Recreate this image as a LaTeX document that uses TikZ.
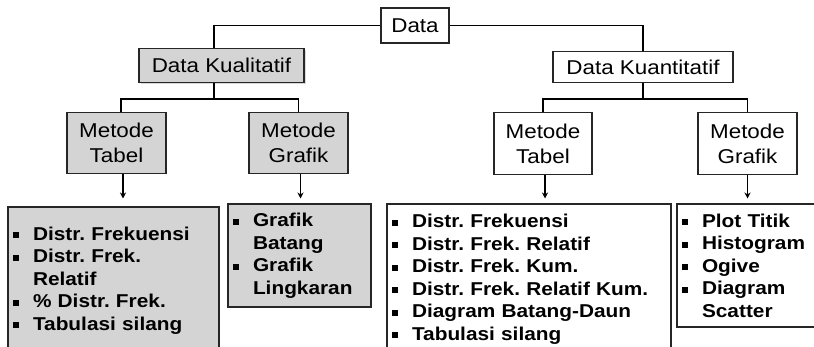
\documentclass[tikz,border=0pt]{standalone}
\usepackage{fontspec}
\setmainfont{Liberation Sans}[FakeStretch=1.12]
\usepackage{tikz}
\usetikzlibrary{positioning,arrows.meta,shadows}
\definecolor{boxgray}{RGB}{212,212,212}
\newcommand{\itembul}{\makebox[20pt][l]{\rule[2pt]{6pt}{6pt}}}
\newcommand{\itemgap}{\hspace*{20pt}}
\frenchspacing

\begin{document}
\begin{tikzpicture}[x=1pt, y=1pt,
    tbox/.style={draw=black!85, line width=1.4pt, rectangle, inner sep=0pt, minimum height=34pt, font=\fontsize{20}{25}\selectfont},
    mbox/.style={tbox, align=center, minimum width=99pt, minimum height=61pt},
    lbox/.style={draw=black!85, line width=1.4pt, rectangle, inner xsep=5pt, inner ysep=0pt, align=left, font=\fontsize{18.6}{22.5}\selectfont\bfseries\frenchspacing},
    link/.style={line width=1.3pt},
    arr/.style={link, -{Stealth[length=6pt, width=6pt]}, shorten >=5pt}]

    \path[use as bounding box, clip] (0,0) rectangle (814,-347);

    % Nodes
    \node (data) [tbox, minimum width=68pt, minimum height=35pt] at (415,-25.5) {Data};
    \node (kual) [tbox, fill=boxgray, minimum width=165pt, drop shadow={shadow xshift=2pt, shadow yshift=-2pt, opacity=0.3}, below=4pt of data, xshift=-193.5pt] {Data Kualitatif};
    \node (kuan) [tbox, minimum width=180pt, minimum height=31pt, below=7pt of data, xshift=228pt] {Data Kuantitatif};

    \node (kualTab) [mbox, fill=boxgray, below=29pt of kual, xshift=-105pt] {Metode\\Tabel};
    \node (kualGraf) [mbox, fill=boxgray, below=29pt of kual, xshift=77pt] {Metode\\Grafik};
    \node (kuanTab) [mbox, minimum width=98pt, minimum height=62pt, below=29pt of kuan, xshift=-100pt] {Metode\\Tabel};
    \node (kuanGraf) [mbox, minimum height=62pt, below=29pt of kuan, xshift=104.5pt] {Metode\\Grafik};

    \node (kualTabList) [lbox, fill=boxgray, text width=201pt, minimum height=147pt, below=32pt of kualTab, xshift=-3pt]
        {\itembul Distr. Frekuensi\\ \itembul Distr. Frek.\\ \itemgap Relatif\\ \itembul \% Distr. Frek.\\ \itembul Tabulasi silang};
    \node (kualGrafList) [lbox, fill=boxgray, text width=133pt, minimum height=103pt, below=29pt of kualGraf, xshift=1pt]
        {\itembul Grafik\\ \itemgap Batang\\ \itembul Grafik\\ \itemgap Lingkaran};
    \node (kuanTabList) [lbox, text width=274pt, minimum height=150pt, below=28pt of kuanTab, xshift=-14pt]
        {\itembul Distr. Frekuensi\\ \itembul Distr. Frek. Relatif\\ \itembul Distr. Frek. Kum.\\ \itembul Distr. Frek. Relatif Kum.\\ \itembul Diagram Batang-Daun\\ \itembul Tabulasi silang};
    \node (kuanGrafList) [lbox, text width=129pt, minimum height=123pt, below=28pt of kuanGraf, xshift=-1pt]
        {\itembul Plot Titik\\ \itembul Histogram\\ \itembul Ogive\\ \itembul Diagram\\ \itemgap Scatter};

    % Edges
    \draw[link] (data.west) -| ([xshift=-7.5pt]kual.north);
    \draw[link] (data.east) -| (kuan.north);
    \draw[link] ([xshift=-7.5pt]kual.south) |- +(0,-16) -| ([xshift=4.5pt]kualTab.north);
    \draw[link] ([xshift=-7.5pt]kual.south) |- +(0,-16) -| (kualGraf.north);
    \draw[link] (kuan.south) |- +(0,-16) -| (kuanTab.north);
    \draw[link] (kuan.south) |- +(0,-16) -| (kuanGraf.north);

    \draw[arr, shorten >=8pt] ([xshift=6.5pt]kualTab.south) -- ([xshift=6.5pt]kualTab.south |- kualTabList.north);
    \draw[arr] ([xshift=2pt]kualGraf.south) -- ([xshift=2pt]kualGraf.south |- kualGrafList.north);
    \draw[arr] ([xshift=2pt]kuanTab.south) -- ([xshift=2pt]kuanTab.south |- kuanTabList.north);
    \draw[arr] (kuanGraf.south) -- (kuanGraf.south |- kuanGrafList.north);
\end{tikzpicture}
\end{document}
